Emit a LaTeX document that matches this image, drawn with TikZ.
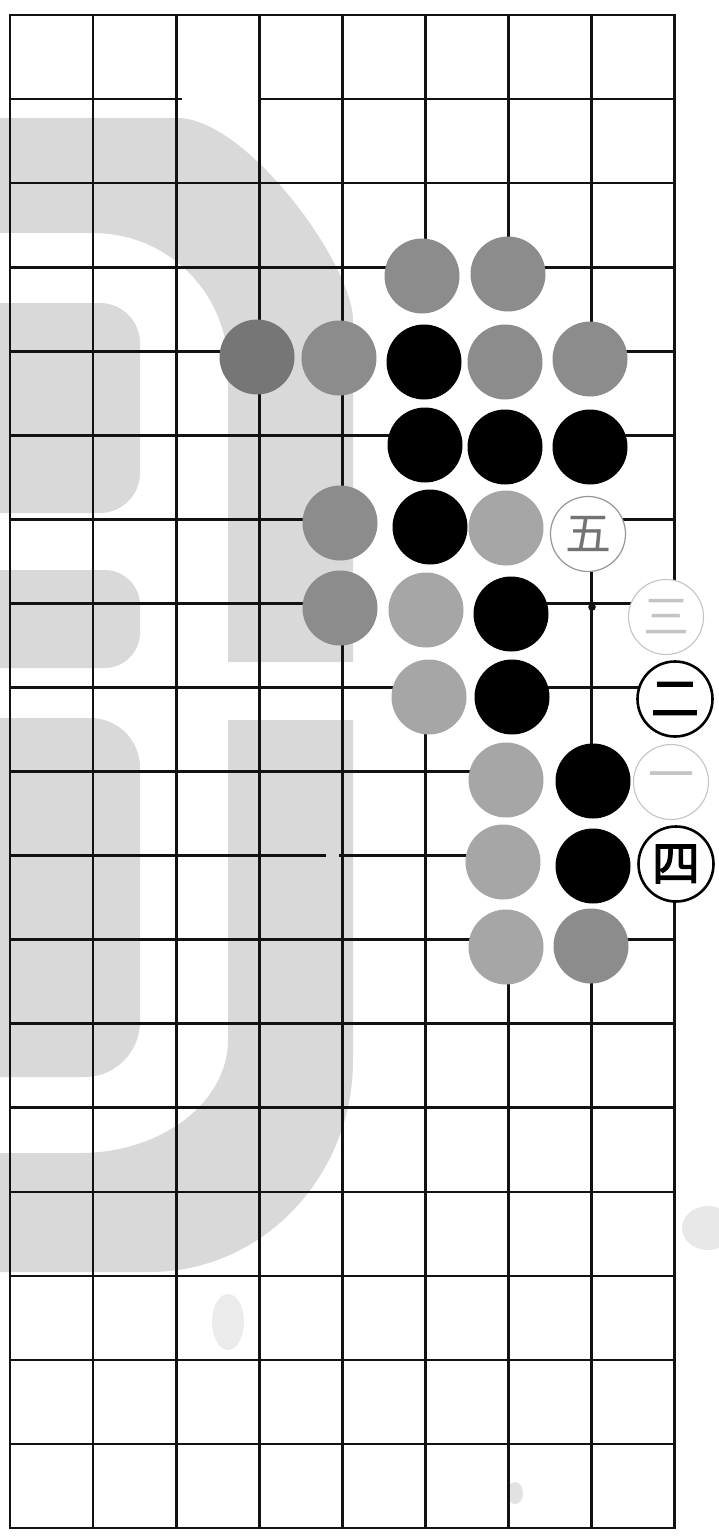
\documentclass[tikz,border=0pt]{standalone}
\usepackage{fontspec}
\newfontfamily\cjk{Noto Sans CJK SC}
\newfontfamily\cjkb{Noto Sans CJK SC}[FakeBold=2.5]
\definecolor{wm}{RGB}{217,217,217}
\definecolor{stA}{RGB}{118,118,118}
\definecolor{stB}{RGB}{140,140,140}
\definecolor{stC}{RGB}{166,166,166}
\definecolor{ink}{RGB}{18,18,18}
\definecolor{faint}{RGB}{196,196,196}
\definecolor{midgray}{RGB}{150,150,150}
\definecolor{chargray}{RGB}{115,115,115}
\begin{document}
\begin{tikzpicture}[x=1pt,y=-1pt,
  gridline/.style={draw=ink,line width=2.7pt},
  cover/.style={draw=#1,line width=8pt},
  stone/.style={circle,minimum size=75pt,inner sep=0pt,outer sep=0pt},
  gs/.style={stone,fill=#1},
  bs/.style={stone,fill=black},
  wdark/.style={stone,fill=white,draw=black,line width=2.6pt,text=black,font=\cjkb\fontsize{48}{48}\selectfont},
  wmid/.style={stone,fill=white,draw=midgray,line width=1.2pt,text=chargray,font=\cjk\fontsize{46}{46}\selectfont},
  wfaint/.style={stone,fill=white,draw=faint,line width=1.1pt,text=faint,font=\cjk\fontsize{46}{46}\selectfont}]
\useasboundingbox (0,0) rectangle (719,1538);
\fill[white] (0,0) rectangle (719,1538);
% watermark
\fill[wm] (0,118) -- (177,118) .. controls (247,118) and (353,265) .. (353,320) -- (353,662) -- (228,662) -- (228,368) .. controls (228,293) and (168,233) .. (93,233) -- (0,233) -- cycle;
\fill[wm] (228,720) -- (353,720) -- (353,1060) .. controls (353,1177) and (262,1272) .. (150,1272) -- (0,1272) -- (0,1153) -- (80,1153) .. controls (162,1153) and (228,1102) .. (228,1040) -- cycle;
\fill[wm] (0,303) -- (100,303) .. controls (122,303) and (140,321) .. (140,343) -- (140,473) .. controls (140,495) and (122,513) .. (100,513) -- (0,513) -- cycle;
\fill[wm] (0,570) -- (105,570) .. controls (124,570) and (140,586) .. (140,605) -- (140,633) .. controls (140,652) and (124,668) .. (105,668) -- (0,668) -- cycle;
\fill[wm] (0,718) -- (90,718) .. controls (118,718) and (140,740) .. (140,768) -- (140,1022) .. controls (140,1052) and (115,1077) .. (85,1077) -- (0,1077) -- cycle;
% smudges
\fill[gray!30,opacity=0.5] (228,1322) ellipse (16 and 28);
\fill[gray!45,opacity=0.5] (515,1493) ellipse (8 and 11);
\fill[gray!40,opacity=0.45] (708,1228) ellipse (26 and 22);
% grid
\foreach \i in {1,...,7} \draw[gridline] ({10+83.1*\i},15) -- ({10+83.1*\i},1528);
\foreach \j in {1,...,17} \draw[gridline] (10,{15+84.06*\j}) -- (675,{15+84.06*\j});
\draw[gridline] (10,15) rectangle (674.8,1528);
% printing gaps
\fill[white] (182,94) rectangle (258,102);
\fill[wm] (326,851) rectangle (339,859);
\fill[ink] (592,607) circle (3.8);
% no line between adjacent stones
\foreach \a/\b/\r in {5/6/3,4/5/4,5/6/4,6/7/4,5/6/5,6/7/5,4/5/6,5/6/6,6/7/6,4/5/7,5/6/7,5/6/8,6/7/9,7/8/9,6/7/10,7/8/10,6/7/11}
  \draw[cover=white] ({10+83.1*\a},{15+84.06*\r}) -- ({10+83.1*\b},{15+84.06*\r});
\draw[cover=wm] ({10+83.1*3},{15+84.06*4}) -- ({10+83.1*4},{15+84.06*4});
\foreach \c/\p/\q in {5/3/4,6/3/4,5/4/5,6/4/5,7/4/5,5/5/6,6/5/6,7/5/6,5/6/7,6/6/7,5/7/8,6/7/8,8/7/8,6/8/9,8/8/9,6/9/10,7/9/10,8/9/10,6/10/11,7/10/11}
  \draw[cover=white] ({10+83.1*\c},{15+84.06*\p}) -- ({10+83.1*\c},{15+84.06*\q});
\draw[cover=wm] ({10+83.1*4},{15+84.06*6}) -- ({10+83.1*4},{15+84.06*7});
% stones
\node[gs=stB] (s53) at (422,276) {};
\node[gs=stB] (s63) at (508,274) {};
\node[gs=stA] (s34) at (257,357) {};
\node[gs=stB] (s44) at (339,358) {};
\node[bs] (s54) at (424,362) {};
\node[gs=stB] (s64) at (505,362) {};
\node[gs=stB] (s74) at (590,359) {};
\node[bs] (s55) at (425,445) {};
\node[bs] (s65) at (505,447) {};
\node[bs] (s75) at (590,447) {};
\node[gs=stB] (s46) at (340,523) {};
\node[bs] (s56) at (430,527) {};
\node[gs=stC] (s66) at (506,528) {};
\node[wmid] (s76) at (588,534) {五};
\node[gs=stB] (s47) at (340,608) {};
\node[gs=stC] (s57) at (426,610) {};
\node[bs] (s67) at (511,614) {};
\node[wfaint] (s87) at (666,617) {三};
\node[gs=stC] (s58) at (429,697) {};
\node[bs] (s68) at (512,697) {};
\node[wdark] (s88) at (675,699) {二};
\node[gs=stC] (s69) at (506,780) {};
\node[bs] (s79) at (593,781) {};
\node[wfaint] (s89) at (671,782) {一};
\node[gs=stC] (s610) at (503,862) {};
\node[bs] (s710) at (593,866) {};
\node[wdark] (s810) at (676,864) {四};
\node[gs=stC] (s611) at (506,947) {};
\node[gs=stB] (s711) at (591,946) {};
\end{tikzpicture}
\end{document}
